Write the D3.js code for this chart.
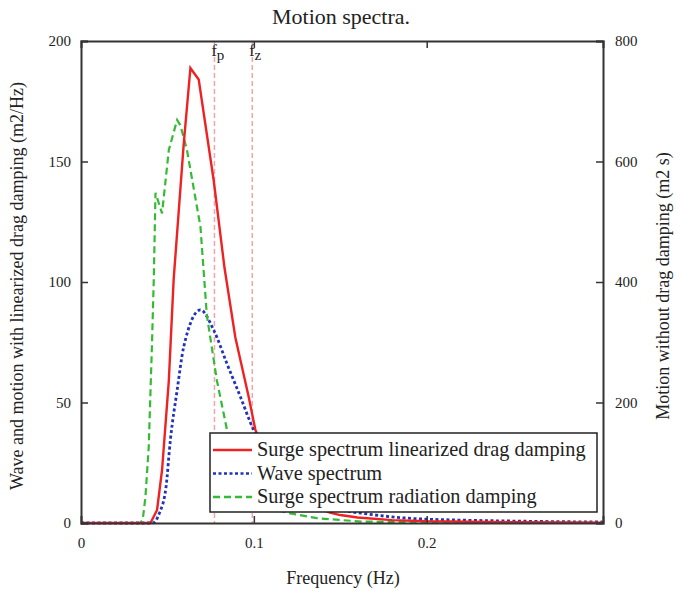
<!DOCTYPE html>
<html>
<head>
<meta charset="utf-8">
<script src="https://cdn.jsdelivr.net/npm/d3@7"></script>
<style>
  body { margin: 0; background: #fff; }
  svg text { font-family: "Liberation Serif", "Times New Roman", serif; fill: #222; }
</style>
</head>
<body>
<div id="chart-area"></div>
<script>
// Data
// Surge spectrum, linearized drag damping (left axis, m2/Hz)
var dragFreq = [0, 0.0373, 0.0402, 0.044, 0.0469, 0.0508, 0.0536, 0.0594, 0.0633, 0.0681, 0.0768, 0.083, 0.0893, 0.097, 0.1009, 0.11, 0.12, 0.13, 0.144, 0.15, 0.16, 0.18, 0.2, 0.25, 0.302];
var dragVals = [0, 0, 0, 5.4, 22, 59, 101, 157, 188.8, 184, 142, 106, 77, 52.4, 38.6, 24, 14, 8, 4.3, 3.3, 2.3, 1.2, 0.7, 0.3, 0.1];

// Wave spectrum (left axis, m2/Hz)
var waveFreq = [0, 0.0414, 0.0453, 0.0492, 0.0517, 0.0556, 0.0594, 0.0691, 0.0768, 0.0845, 0.0922, 0.0999, 0.11, 0.12, 0.13, 0.14, 0.15, 0.163, 0.189, 0.22, 0.25, 0.302];
var waveVals = [0, 0, 4, 15, 34.4, 55, 73, 88.4, 80, 66, 52.4, 38.6, 28, 19, 12, 8, 5.5, 4, 2, 1.2, 0.8, 0.4];

// Surge spectrum, radiation damping only (right axis, m2 s)
var radFreq = [0, 0.034, 0.0357, 0.0373, 0.0392, 0.0411, 0.0421, 0.0431, 0.0469, 0.0508, 0.0556, 0.0575, 0.0613, 0.0691, 0.0728, 0.0786, 0.0845, 0.09, 0.095, 0.1, 0.11, 0.121, 0.1365, 0.162, 0.2, 0.302];
var radVals = [0, 0, 5, 44, 127, 300, 404, 548, 514, 619, 669, 660, 619, 492, 345, 237, 154, 96, 60, 40, 24, 16, 8, 2.4, 0.8, 0];

// Marked frequencies
var markNames = ["p", "z"];
var markFreqs = [0.0772, 0.0991];

var xTicks = [0, 0.1, 0.2];
var yLeftTicks = [0, 50, 100, 150, 200];
var yRightTicks = [0, 200, 400, 600, 800];

var legendLabels = ["Surge spectrum linearized drag damping", "Wave spectrum", "Surge spectrum radiation damping"];

// Chart area
var margin = { left: 81, right: 77, top: 41, bottom: 68 };
var W = 680, H = 591;
var width = W - margin.left - margin.right;
var height = H - margin.top - margin.bottom;

var svg = d3.select("#chart-area")
	.append("svg")
	.attr("width", W)
	.attr("height", H);

var g = svg.append("g")
	.attr("transform", "translate(" + margin.left + "," + margin.top + ")");

// Scales
var x = d3.scaleLinear().domain([0, 0.302]).range([0, width]);
var yL = d3.scaleLinear().domain([0, 200]).range([height, 0]);
var yR = d3.scaleLinear().domain([0, 800]).range([height, 0]);

// Marked frequency lines
markFreqs.forEach(function (f, i) {
	g.append("line")
		.attr("x1", x(f)).attr("x2", x(f))
		.attr("y1", 0).attr("y2", height)
		.attr("stroke", "#f6a3ab")
		.attr("stroke-width", 1.5)
		.attr("stroke-dasharray", "5,3");
	var t = g.append("text")
		.attr("x", x(f) - 3)
		.attr("y", 15)
		.attr("font-size", "16px")
		.attr("fill", "#444")
		.text("f");
	t.append("tspan")
		.attr("dy", 4)
		.attr("font-size", "15px")
		.text(markNames[i]);
});

// Curves
var lineL = d3.line().x(d => x(d[0])).y(d => yL(d[1]));
var smoothL = d3.line().x(d => x(d[0])).y(d => yL(d[1])).curve(d3.curveMonotoneX);
var lineR = d3.line().x(d => x(d[0])).y(d => yR(d[1]));

var series = [
	{ pts: d3.zip(waveFreq, waveVals), line: smoothL, color: "#2233bb", dash: "3,2.5", w: 2.8 },
	{ pts: d3.zip(radFreq, radVals), line: lineR, color: "#33bb33", dash: "7,4", w: 2.2 },
	{ pts: d3.zip(dragFreq, dragVals), line: lineL, color: "#ee2222", dash: null, w: 2.4 }
];

series.forEach(function (s) {
	g.append("path")
		.attr("d", s.line(s.pts))
		.attr("fill", "none")
		.attr("stroke", s.color)
		.attr("stroke-width", s.w)
		.attr("stroke-dasharray", s.dash);
});

// Axes
var axisColor = "#333";
var xAxisB = d3.axisBottom(x).tickValues(xTicks).tickSize(-7).tickPadding(14)
	.tickFormat(d => d === 0 ? "0" : d3.format(".1f")(d));
var gx = g.append("g").attr("transform", "translate(0," + height + ")").call(xAxisB);

var xAxisT = d3.axisTop(x).tickValues([0.1, 0.2]).tickSize(-7).tickFormat("");
var gxt = g.append("g").call(xAxisT);

var yAxisL = d3.axisLeft(yL).tickValues(yLeftTicks).tickSize(-7).tickPadding(10);
var gyl = g.append("g").call(yAxisL);

var yAxisR = d3.axisRight(yR).tickValues(yRightTicks).tickSize(-7).tickPadding(12);
var gyr = g.append("g").attr("transform", "translate(" + width + ",0)").call(yAxisR);

[gx, gxt, gyl, gyr].forEach(function (a) {
	a.select(".domain").attr("stroke", axisColor).attr("stroke-width", 2);
	a.selectAll(".tick line").attr("stroke", axisColor).attr("stroke-width", 1.5);
	a.selectAll(".tick text")
		.attr("font-family", "Liberation Serif, serif")
		.attr("font-size", "15px")
		.attr("fill", "#222");
});
gx.select(".tick line").remove();

// Legend
var lg = g.append("g").attr("transform", "translate(" + (210 - margin.left) + "," + (433 - margin.top) + ")");
lg.append("rect")
	.attr("width", 387).attr("height", 79)
	.attr("fill", "#fff")
	.attr("stroke", "#222")
	.attr("stroke-width", 1.5);
var legendColors = ["#ee2222", "#2233bb", "#33bb33"];
var legendDash = [null, "3,2.5", "7,4"];
legendLabels.forEach(function (lbl, i) {
	var yy = 17 + i * 23.5;
	lg.append("line")
		.attr("x1", 3).attr("x2", 42)
		.attr("y1", yy).attr("y2", yy)
		.attr("stroke", legendColors[i])
		.attr("stroke-width", 2.6)
		.attr("stroke-dasharray", legendDash[i]);
	lg.append("text")
		.attr("x", 47).attr("y", yy + 6)
		.attr("font-size", "20.3px")
		.text(lbl);
});

// Labels
svg.append("text")
	.attr("x", 341).attr("y", 24)
	.attr("text-anchor", "middle")
	.attr("font-size", "22px")
	.text("Motion spectra.");

svg.append("text")
	.attr("x", 343).attr("y", 584)
	.attr("text-anchor", "middle")
	.attr("font-size", "18px")
	.text("Frequency (Hz)");

svg.append("text")
	.attr("transform", "translate(23," + 286 + ") rotate(-90)")
	.attr("text-anchor", "middle")
	.attr("font-size", "18px")
	.text("Wave and motion with linearized drag damping (m2/Hz)");

svg.append("text")
	.attr("transform", "translate(669," + 286 + ") rotate(-90)")
	.attr("text-anchor", "middle")
	.attr("font-size", "18px")
	.text("Motion without drag damping (m2 s)");
</script>
</body>
</html>
